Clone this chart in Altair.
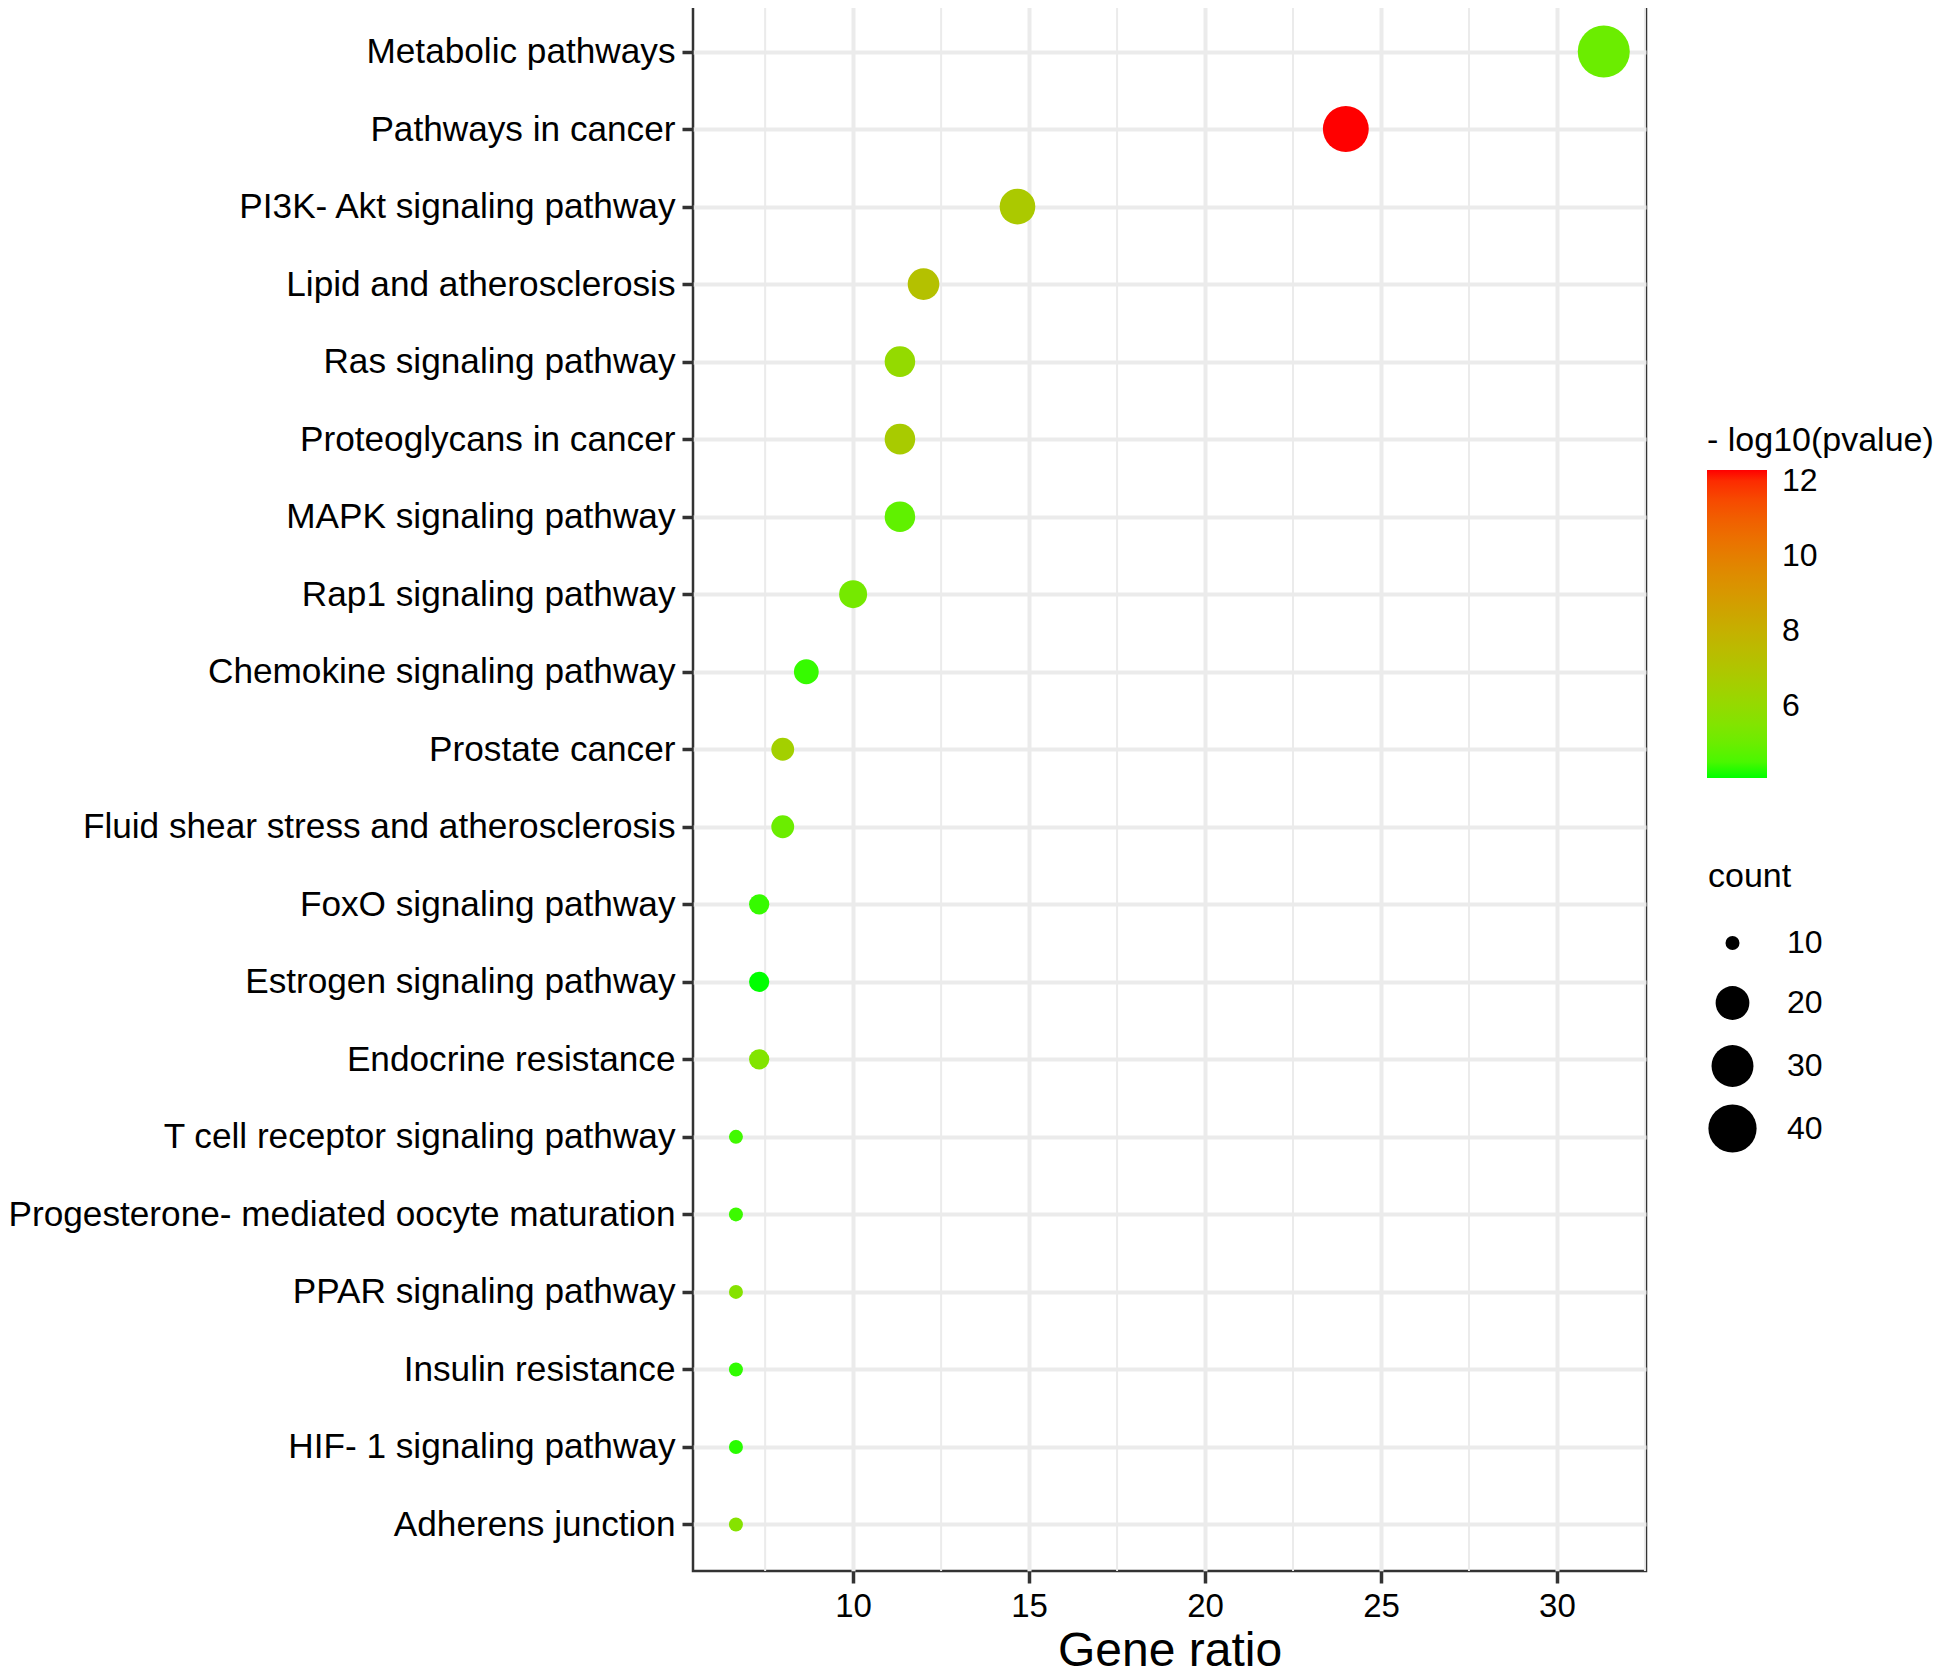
import math
import altair as alt
import pandas as pd

# ---------------- data ----------------
pathways = [
    "Metabolic pathways",
    "Pathways in cancer",
    "PI3K- Akt signaling pathway",
    "Lipid and atherosclerosis",
    "Ras signaling pathway",
    "Proteoglycans in cancer",
    "MAPK signaling pathway",
    "Rap1 signaling pathway",
    "Chemokine signaling pathway",
    "Prostate cancer",
    "Fluid shear stress and atherosclerosis",
    "FoxO signaling pathway",
    "Estrogen signaling pathway",
    "Endocrine resistance",
    "T cell receptor signaling pathway",
    "Progesterone- mediated oocyte maturation",
    "PPAR signaling pathway",
    "Insulin resistance",
    "HIF- 1 signaling pathway",
    "Adherens junction",
]
gene_ratio = [31.33, 24.0, 14.67, 12.0, 11.33, 11.33, 11.33, 10.0, 8.67, 8.0,
              8.0, 7.33, 7.33, 7.33, 6.67, 6.67, 6.67, 6.67, 6.67, 6.67]
counts = [47, 36, 22, 18, 17, 17, 17, 15, 13, 12,
          12, 11, 11, 11, 10, 10, 10, 10, 10, 10]
neg_log10_p = [5.0, 12.29, 6.8, 7.2, 6.0, 6.7, 4.8, 5.2, 4.3, 6.5,
               5.0, 4.3, 4.07, 5.5, 4.4, 4.35, 5.6, 4.25, 4.2, 5.6]

x_ticks = [10, 15, 20, 25, 30]
minor_breaks = [7.5, 12.5, 17.5, 22.5, 27.5, 32.5]
color_ticks = [6, 8, 10, 12]
size_ticks = [10, 20, 30, 40]

df = pd.DataFrame({
    "pathway": pathways,
    "ratio": gene_ratio,
    "count": counts,
    "nlp": neg_log10_p,
})
minor_df = pd.DataFrame({"v": minor_breaks})

FONT = "Liberation Sans"

# size scale mimicking ggplot's area palette (diameter 14 -> 52 px)
size_domain = list(range(10, 48))
size_range = [(14 + 38 * math.sqrt((v - 10) / 37.0)) ** 2 for v in size_domain]

xscale = alt.Scale(domain=[5.45, 32.53], nice=False, zero=False)

minor = alt.Chart(minor_df).mark_rule(color="#EBEBEB", strokeWidth=2).encode(
    x=alt.X("v:Q", scale=xscale)
)

points = alt.Chart(df).mark_circle(opacity=1).encode(
    x=alt.X(
        "ratio:Q",
        scale=xscale,
        axis=alt.Axis(
            values=x_ticks,
            title="Gene ratio",
            titleFont=FONT,
            titleFontSize=48,
            titleFontWeight="normal",
            titleColor="black",
            titlePadding=4,
            labelFont=FONT,
            labelFontSize=33,
            labelColor="black",
            labelPadding=7,
            tickSize=12,
            tickWidth=3.5,
            tickColor="#333333",
            domain=False,
            grid=True,
            gridColor="#EBEBEB",
            gridWidth=4,
        ),
    ),
    y=alt.Y(
        "pathway:N",
        sort=pathways,
        scale=alt.Scale(type="point", padding=0.6),
        axis=alt.Axis(
            title=None,
            labelFont=FONT,
            labelFontSize=35.2,
            labelColor="black",
            labelPadding=7,
            labelLimit=2000,
            tickSize=11,
            tickWidth=3.5,
            tickColor="#333333",
            domain=False,
            grid=True,
            gridColor="#EBEBEB",
            gridWidth=4,
        ),
    ),
    color=alt.Color(
        "nlp:Q",
        scale=alt.Scale(domain=[4.07, 12.29], range=["#00FF00", "#FF0000"],
                        interpolate="lab", nice=False, zero=False),
        legend=alt.Legend(
            title="- log10(pvalue)",
            orient="none",
            legendX=1014,
            legendY=419,
            direction="vertical",
            gradientLength=308,
            gradientThickness=60,
            gradientStrokeWidth=0,
            values=color_ticks,
            labelOverlap=False,
            titleFont=FONT,
            titleFontSize=34,
            titleFontWeight="normal",
            titleColor="black",
            titlePadding=12,
            titleLimit=2000,
            labelFont=FONT,
            labelFontSize=32,
            labelColor="black",
            labelOffset=15,
            padding=0,
        ),
    ),
    size=alt.Size(
        "count:Q",
        scale=alt.Scale(domain=size_domain, range=size_range),
        legend=alt.Legend(
            title="count",
            orient="none",
            legendX=1015,
            legendY=855,
            values=size_ticks,
            symbolType="circle",
            symbolFillColor="black",
            symbolStrokeColor="black",
            symbolStrokeWidth=0,
            symbolOpacity=1,
            gridAlign="all",
            titleFont=FONT,
            titleFontSize=34,
            titleFontWeight="normal",
            titleColor="black",
            titlePadding=33,
            titleLimit=2000,
            labelFont=FONT,
            labelFontSize=32,
            labelColor="black",
            labelOffset=30,
            rowPadding=10,
            padding=0,
        ),
    ),
)

chart = alt.layer(minor, points).properties(
    width=953,
    height=1566,
    padding={"left": 0, "top": -4, "right": 0, "bottom": 0},
    background="white",
).configure_view(stroke="#333333", strokeWidth=2.5)

chart.save("out.html", embed_options={"renderer": "svg", "actions": False})
